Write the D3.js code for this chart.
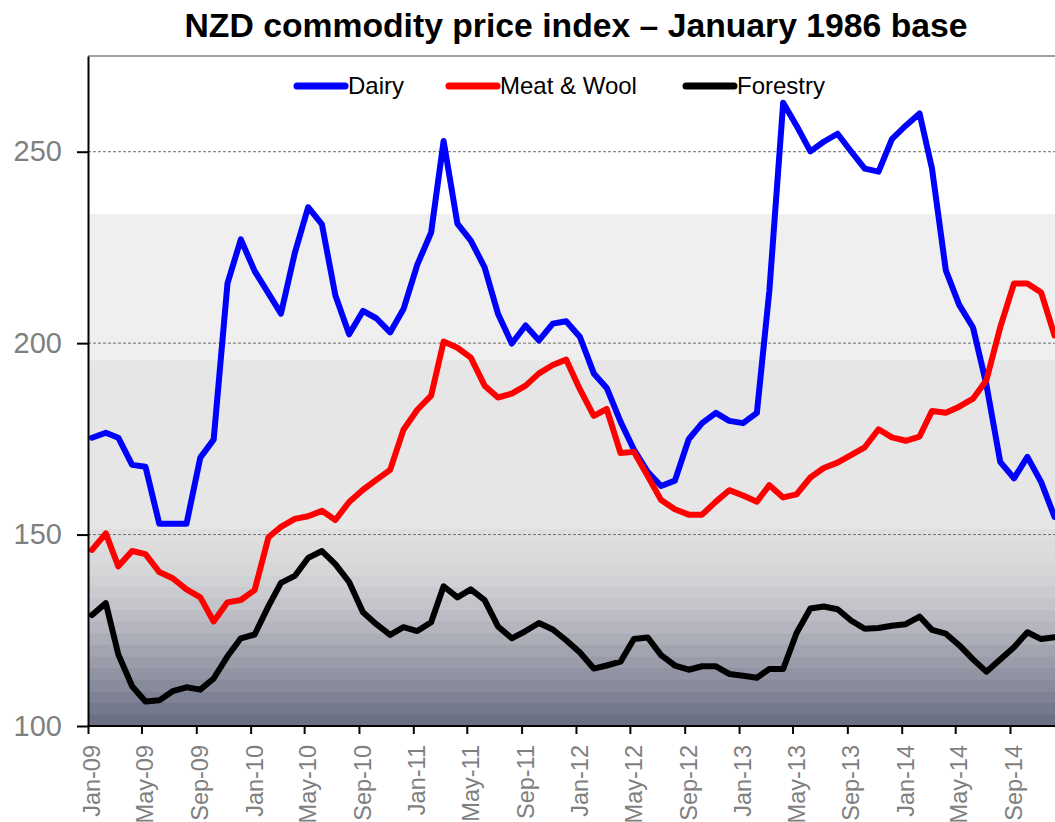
<!DOCTYPE html>
<html>
<head>
<meta charset="utf-8">
<script src="https://cdn.jsdelivr.net/npm/d3@7"></script>
<style>
  body { margin: 0; background: #fff; }
  svg { display: block; }
</style>
</head>
<body>
<div id="chart"></div>
<script>
var width = 1055;
var height = 822;

// chart data, monthly Jan-09 .. Dec-14
var seriesNames = ["Dairy", "Meat & Wool", "Forestry"];
var dairy = [175.3, 176.6, 175.3, 168.2, 167.7, 152.8, 152.8, 152.8, 170.1, 174.8, 215.6, 227.1,
  218.8, 213, 207.7, 223.5, 235.5, 231, 212.5, 202.3, 208.4, 206.5, 202.8, 208.9,
  220.5, 228.9, 252.8, 231.2, 226.8, 219.8, 207.7, 199.9, 204.6, 200.7, 205.1, 205.7,
  201.6, 192.1, 188.3, 179.5, 172.2, 166.4, 162.7, 164.1, 174.9, 179.1, 181.8, 179.7,
  179.1, 181.8, 213.7, 262.8, 256.8, 250.1, 252.6, 254.7, 250, 245.6, 244.8, 253.3,
  256.8, 260, 245.6, 219, 210, 204.1, 189.2, 169, 164.7, 170.3, 163.7, 154.6];
var meatWool = [146, 150.3, 141.7, 145.7, 144.9, 140.2, 138.6, 135.7, 133.6, 127.3, 132.3, 132.9,
  135.5, 149.3, 152, 154.1, 154.8, 156.2, 153.8, 158.5, 161.7, 164.3, 166.9, 177.4,
  182.6, 186.3, 200.4, 198.8, 196.2, 188.9, 185.8, 186.8, 188.9, 192.1, 194.3, 195.7,
  187.9, 181, 182.8, 171.3, 171.6, 165.3, 159, 156.6, 155.2, 155.2, 158.6, 161.6,
  160.2, 158.6, 162.9, 159.7, 160.5, 164.9, 167.4, 168.8, 170.8, 172.8, 177.5, 175.4,
  174.5, 175.6, 182.3, 181.8, 183.4, 185.5, 190.3, 204.1, 215.6, 215.6, 213.2, 202];
var forestry = [129, 132.1, 118.7, 110.4, 106.4, 106.7, 109.1, 110.1, 109.5, 112.4, 118.2, 122.9,
  123.9, 131.3, 137.4, 139.2, 143.9, 145.7, 142.3, 137.6, 129.7, 126.6, 123.8, 125.8,
  124.8, 127.1, 136.5, 133.6, 135.7, 132.9, 126, 122.9, 124.8, 126.9, 125.2, 122.4,
  119.2, 115, 115.8, 116.8, 122.7, 123.1, 118.5, 115.8, 114.7, 115.6, 115.6, 113.6,
  113.1, 112.6, 114.9, 114.9, 124.3, 130.7, 131.2, 130.5, 127.5, 125.4, 125.6, 126.2,
  126.6, 128.6, 125.1, 124.1, 121.1, 117.4, 114.2, 117.4, 120.6, 124.5, 122.7, 123.2];
var tickLabels = ["Jan-09", "May-09", "Sep-09", "Jan-10", "May-10", "Sep-10", "Jan-11", "May-11",
  "Sep-11", "Jan-12", "May-12", "Sep-12", "Jan-13", "May-13", "Sep-13", "Jan-14", "May-14", "Sep-14"];
var yTicks = [100, 150, 200, 250];
var gridValues = [150, 200, 250];

var colors = ["#0000ff", "#ff0000", "#000000"];
var labelGrey = "#7f7f7f";
var font = "'Liberation Sans', Arial, sans-serif";

var parseTick = d3.timeParse("%b-%y");
// index is read around the 10th of each month
var dates = d3.timeMonth.range(new Date(2009, 0, 1), new Date(2015, 0, 1))
  .map(function(m) { return d3.timeDay.offset(m, 9); });

var series = [dairy, meatWool, forestry].map(function(vals, i) {
  return { name: seriesNames[i], color: colors[i],
    points: vals.map(function(v, j) { return { date: dates[j], value: v }; }) };
});

var x = d3.scaleTime()
  .domain([parseTick("Jan-09"), parseTick("Sep-14")])
  .range([88, 1010]);
var y = d3.scaleLinear().domain([100, 275]).range([726, 56]);

var left = x.range()[0];
var right = width + 10;

var svg = d3.select('#chart').append('svg')
  .attr('width', width).attr('height', height);

// background bands (white, light greys, then darkening stripes)
var bands = [
  { top: 275, bottom: 233.7, color: "#ffffff" },
  { top: 233.7, bottom: 195.5, color: "#efefef" },
  { top: 195.5, bottom: 151.5, color: "#e6e6e6" }
];
var stripeColor = d3.interpolateRgbBasis(["#dfdfdf", "#d6d7d9", "#c2c3c9", "#a6a8b3", "#8a8d9e", "#6c7085"]);
var stripeCount = 17;
var stripeStep = (151.5 - 100) / stripeCount;
d3.range(stripeCount).forEach(function(k) {
  bands.push({ top: 151.5 - k * stripeStep, bottom: 151.5 - (k + 1) * stripeStep,
    color: stripeColor(k / (stripeCount - 1)) });
});

svg.append('g').selectAll('rect')
  .data(bands)
  .enter()
  .append('rect')
  .attr('x', left)
  .attr('y', function(d) { return y(d.top); })
  .attr('width', right - left)
  .attr('height', function(d) { return y(d.bottom) - y(d.top) + 0.5; })
  .attr('fill', function(d) { return d.color; });

// dashed gridlines
svg.append('g').selectAll('line')
  .data(gridValues)
  .enter()
  .append('line')
  .attr('x1', left).attr('x2', right)
  .attr('y1', function(d) { return y(d); })
  .attr('y2', function(d) { return y(d); })
  .attr('stroke', '#6f6f6f')
  .attr('stroke-width', 1)
  .attr('stroke-dasharray', '3,2');

// top border of plot area
svg.append('line')
  .attr('x1', left).attr('x2', right)
  .attr('y1', y(275)).attr('y2', y(275))
  .attr('stroke', '#a0a0a0').attr('stroke-width', 2);

// series lines
var line = d3.line()
  .x(function(d) { return x(d.date); })
  .y(function(d) { return y(d.value); });

svg.append('g').selectAll('path')
  .data(series)
  .enter()
  .append('path')
  .attr('d', function(d) { return line(d.points); })
  .attr('fill', 'none')
  .attr('stroke', function(d) { return d.color; })
  .attr('stroke-width', 6)
  .attr('stroke-linejoin', 'round')
  .attr('stroke-linecap', 'round');

// y axis
var yAxis = svg.append('g')
  .attr('transform', 'translate(' + left + ',0)')
  .call(d3.axisLeft(y).tickValues(yTicks).tickSize(11).tickSizeOuter(0).tickPadding(15));
yAxis.select('.domain').attr('stroke', '#000').attr('stroke-width', 2);
yAxis.selectAll('.tick line').attr('stroke', '#000').attr('stroke-width', 2);
yAxis.selectAll('.tick text')
  .attr('fill', labelGrey)
  .style('font-family', font)
  .style('font-size', '29px');

// x axis
var xTickDates = tickLabels.map(parseTick);
var xAxis = svg.append('g')
  .attr('transform', 'translate(0,' + y(100) + ')')
  .call(d3.axisBottom(x).tickValues(xTickDates).tickSize(8).tickSizeOuter(0).tickFormat(''));
xAxis.select('.domain').attr('d', 'M' + left + ',0H' + right)
  .attr('stroke', '#000').attr('stroke-width', 2);
xAxis.selectAll('.tick line').attr('stroke', '#000').attr('stroke-width', 2);

svg.append('g').selectAll('text')
  .data(xTickDates)
  .enter()
  .append('text')
  .attr('transform', function(d) { return 'translate(' + (x(d) + 12) + ',' + (y(100) + 19) + ') rotate(-90)'; })
  .attr('text-anchor', 'end')
  .attr('fill', labelGrey)
  .style('font-family', font)
  .style('font-size', '23.5px')
  .text(function(d, i) { return tickLabels[i]; });

// title
svg.append('text')
  .attr('x', 576)
  .attr('y', 37)
  .attr('text-anchor', 'middle')
  .attr('textLength', 783)
  .attr('lengthAdjust', 'spacingAndGlyphs')
  .style('font-family', font)
  .style('font-weight', 'bold')
  .style('font-size', '33px')
  .text('NZD  commodity price index \u2013 January 1986 base');

// legend
var legendX = [297, 449, 686];
var legend = svg.append('g').selectAll('g')
  .data(series)
  .enter()
  .append('g')
  .attr('transform', function(d, i) { return 'translate(' + legendX[i] + ',86)'; });

legend.append('line')
  .attr('x1', 0).attr('x2', 48)
  .attr('stroke', function(d) { return d.color; })
  .attr('stroke-width', 7)
  .attr('stroke-linecap', 'round');

legend.append('text')
  .attr('x', 51)
  .attr('y', 8)
  .style('font-family', font)
  .style('font-size', '24px')
  .attr('fill', '#000')
  .text(function(d) { return d.name; });
</script>
</body>
</html>
